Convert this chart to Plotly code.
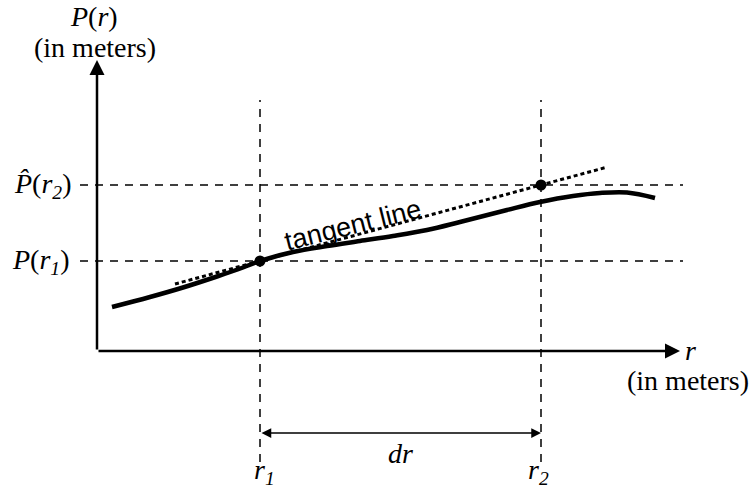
import plotly.graph_objects as go

# ---- data (r and P in arbitrary "meter" units, origin at axis corner) ----
curve_r = [1.5, 5.3, 8.6, 12.0, 14.6, 16.3, 19.6, 23.0, 26.3, 29.6, 33.0, 36.3, 41.0, 44.3, 47.6, 50.3, 53.0, 55.8]
curve_P = [4.4, 5.4, 6.35, 7.45, 8.35, 9.0, 9.9, 10.5, 11.0, 11.5, 12.1, 12.9, 14.1, 14.9, 15.5, 15.8, 15.85, 15.3]
point_r = [16.3, 44.4]        # r1, r2
point_P = [9.0, 16.6]         # P(r1), P^(r2)
tangent_span = [7.8, 50.8]    # r extent of the tangent line
axis_end = [58.3, 29.1]       # r-axis tip, P-axis tip
guide_r_span = [-1.7, 58.6]
guide_P_span = [-11.1, 25.1]
dr_level = -8.2

slope = (point_P[1] - point_P[0]) / (point_r[1] - point_r[0])
tan_P = [point_P[0] + slope * (r - point_r[0]) for r in tangent_span]

serif = "Liberation Serif"
sans = "Liberation Sans"
fig = go.Figure()

dash = "8px,7px"
for P in point_P:
    fig.add_trace(go.Scatter(x=guide_r_span, y=[P, P], mode="lines",
                             line=dict(color="black", width=1.5, dash=dash), hoverinfo="skip"))
for r in point_r:
    fig.add_trace(go.Scatter(x=[r, r], y=guide_P_span, mode="lines",
                             line=dict(color="black", width=1.5, dash=dash), hoverinfo="skip"))

fig.add_trace(go.Scatter(x=tangent_span, y=tan_P, mode="lines",
                         line=dict(color="black", width=3, dash="4px,3px"), hoverinfo="skip"))
fig.add_trace(go.Scatter(x=curve_r, y=curve_P, mode="lines",
                         line=dict(color="black", width=4.5, shape="spline", smoothing=1.0), hoverinfo="skip"))
fig.add_trace(go.Scatter(x=point_r, y=point_P, mode="markers",
                         marker=dict(color="black", size=11), hoverinfo="skip"))

# axes arrows
fig.add_annotation(x=axis_end[0], y=0, ax=0, ay=0, axref="x", ayref="y", xref="x", yref="y",
                   text="", showarrow=True, arrowhead=2, arrowsize=1.2, arrowwidth=2.5, arrowcolor="black")
fig.add_annotation(x=0, y=axis_end[1], ax=0, ay=0, axref="x", ayref="y", xref="x", yref="y",
                   text="", showarrow=True, arrowhead=2, arrowsize=1.2, arrowwidth=2.5, arrowcolor="black")
# dr arrow
fig.add_annotation(x=point_r[1], y=dr_level, ax=point_r[0], ay=dr_level, axref="x", ayref="y",
                   xref="x", yref="y", text="", showarrow=True, arrowhead=2, arrowside="end+start",
                   arrowsize=1.3, arrowwidth=1.5, arrowcolor="black")

def lab(x, y, t, size=28, xa="center", font=serif, angle=0):
    fig.add_annotation(x=x, y=y, xref="x", yref="y", text=t, showarrow=False, xanchor=xa,
                       textangle=angle, font=dict(family=font, size=size, color="black"))

lab(-0.3, 33.5, "<i>P</i>(<i>r</i>)")
lab(-0.2, 30.4, "(in meters)")
lab(-2.6, point_P[0], "<i>P</i>(<i>r</i><sub><i>1</i></sub>)", xa="right")
lab(-2.4, point_P[1], "<i>P\u0302</i>(<i>r</i><sub><i>2</i></sub>)", xa="right")
lab(point_r[0] + 0.4, -12.0, "<i>r</i><sub><i>1</i></sub>")
lab(point_r[1] - 0.3, -12.0, "<i>r</i><sub><i>2</i></sub>")
lab(30.3, -10.2, "<i>dr</i>")
lab(58.6, 0.1, "<i>r</i>", xa="left")
lab(59.1, -2.9, "(in meters)")
lab(25.6, 12.6, "tangent line", size=27, font=sans, angle=-14)

fig.update_layout(
    width=755, height=489, margin=dict(l=0, r=0, t=0, b=0),
    paper_bgcolor="white", plot_bgcolor="white", showlegend=False,
    xaxis=dict(range=[-9.7, 65.8], visible=False, fixedrange=True),
    yaxis=dict(range=[-13.8, 35.1], visible=False, fixedrange=True),
)
fig.write_html("out.html", config={"displayModeBar": False, "staticPlot": True})

# remove default page margin so the figure sits at the window's top-left corner
with open("out.html", encoding="utf-8") as f:
    html = f.read()
html = html.replace("<body>", '<body style="margin:0;overflow:hidden">', 1)
with open("out.html", "w", encoding="utf-8") as f:
    f.write(html)
